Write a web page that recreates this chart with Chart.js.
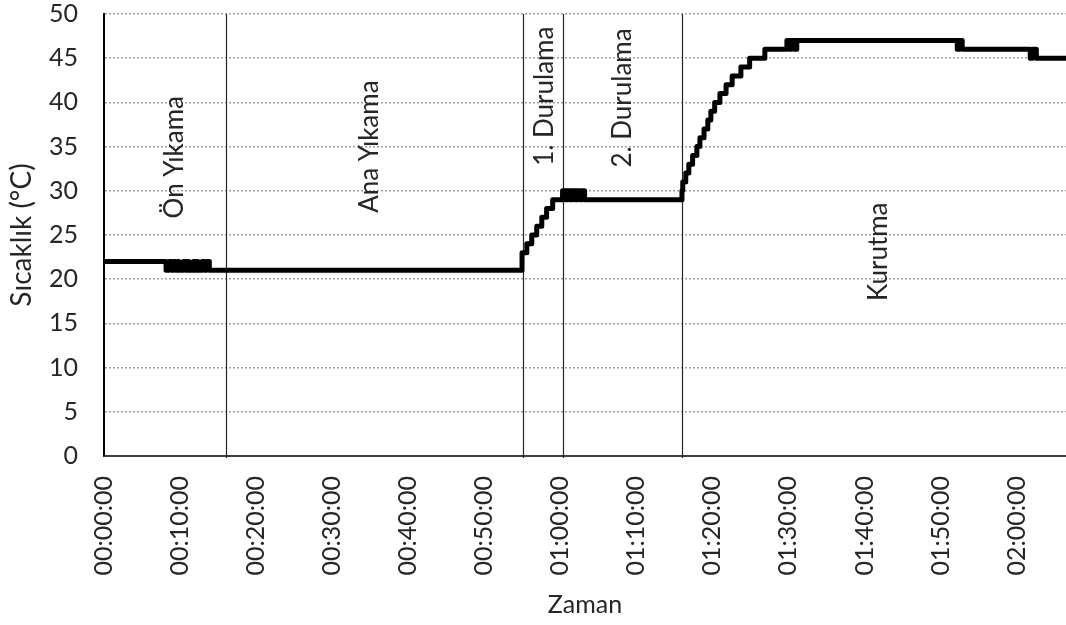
<!DOCTYPE html>
<html lang="tr">
<head>
<meta charset="utf-8">
<title>Sıcaklık - Zaman</title>
<script src="https://cdn.jsdelivr.net/npm/chart.js@4.4.1/dist/chart.umd.min.js"></script>
<style>
  html, body { margin: 0; padding: 0; background: #fff; }
  #kutu { width: 1066px; height: 625px; }
</style>
</head>
<body>
<div id="kutu"><canvas id="grafik"></canvas></div>
<script>
// zaman (dakika) ve sicaklik (°C)
var zamanDk = [
	0, 8.16,
	8.6, 8.9, 9.15, 9.45, 9.7, 9.85,
	10.45, 10.75, 10.95, 11.15,
	11.75, 12.0, 12.2, 12.35,
	12.9, 13.2, 13.45, 13.85,
	54.97, 55.6, 56.25, 56.9, 57.57, 58.2, 59.0,
	60.3, 60.65, 60.95, 61.3, 61.6, 61.95, 62.25, 62.6, 62.85, 63.2,
	76.0, 76.1, 76.5, 76.9, 77.4, 77.96, 78.36, 78.9, 79.4, 79.8, 80.3, 80.99, 81.8, 82.6, 83.75, 84.9, 86.9,
	89.8, 90.1, 90.4, 90.8, 91.1,
	112.2, 112.5, 112.85,
	121.8, 122.1, 122.6,
	126.5
];
var sicaklik = [
	22, 21,
	22, 21, 22, 21, 22, 21,
	22, 21, 22, 21,
	22, 21, 22, 21,
	22, 21, 22, 21,
	23, 24, 25, 26, 27, 28, 29,
	30, 29, 30, 29, 30, 29, 30, 29, 30, 29,
	30, 31, 32, 33, 34, 35, 36, 37, 38, 39, 40, 41, 42, 43, 44, 45, 46,
	47, 46, 47, 46, 47,
	46, 47, 46,
	45, 46, 45,
	45
];

var asamaAdlari = ["Ön Yıkama", "Ana Yıkama", "1. Durulama", "2. Durulama", "Kurutma"];
var asamaSinirlari = [16.0, 55.1, 60.3, 76.0];	// dakika

var yaziRengi = "#262626";

function saatYaz(dk) {
	var s = Math.round(dk * 60);
	var h = Math.floor(s / 3600), m = Math.floor((s % 3600) / 60), sn = s % 60;
	return [h, m, sn].map(function(n) { return String(n).padStart(2, "0"); }).join(":");
}

var noktalar = [];
for (var i = 0; i < zamanDk.length; i++) {
	noktalar.push({ x: zamanDk[i], y: sicaklik[i] });
}

// asama cizgileri ve yazilari
var asamaEklentisi = {
	id: "asamalar",
	beforeDatasetsDraw: function(chart) {
		var ctx = chart.ctx, xs = chart.scales.x, ys = chart.scales.y, alan = chart.chartArea;
		// yazi yerleri (dakika, °C)
		var etiketX = [9.3, 34.9, 58.0, 68.2, 101.8];
		var etiketY = [33.8, 35.0, 40.7, 40.5, 23.1];

		ctx.save();
		ctx.strokeStyle = "#262626";
		ctx.lineWidth = 1.2;
		asamaSinirlari.forEach(function(t) {
			var px = Math.round(xs.getPixelForValue(t)) + 0.5;
			ctx.beginPath();
			ctx.moveTo(px, alan.top);
			ctx.lineTo(px, alan.bottom + 2);
			ctx.stroke();
		});

		ctx.font = "26px Lato";
		ctx.fillStyle = yaziRengi;
		ctx.textAlign = "center";
		ctx.textBaseline = "middle";
		asamaAdlari.forEach(function(ad, k) {
			ctx.save();
			ctx.translate(xs.getPixelForValue(etiketX[k]), ys.getPixelForValue(etiketY[k]));
			ctx.rotate(-Math.PI / 2);
			ctx.fillText(ad, 0, 0);
			ctx.restore();
		});
		ctx.restore();
	}
};

var ctx = document.getElementById("grafik");
var grafik = new Chart(ctx, {
	type: "line",
	data: {
		datasets: [{
			data: noktalar,
			borderColor: "#000",
			borderWidth: 5,
			borderJoinStyle: "round",
			pointRadius: 0,
			stepped: true,
			fill: false
		}]
	},
	options: {
		responsive: true,
		maintainAspectRatio: false,
		animation: false,
		layout: { padding: 0 },
		plugins: {
			legend: { display: false },
			tooltip: { enabled: false }
		},
		scales: {
			x: {
				type: "linear",
				min: 0,
				max: 126.5,
				grid: { display: false, drawTicks: false },
				border: { display: true, color: "#404040", width: 2 },
				ticks: {
					stepSize: 10,
					includeBounds: false,
					autoSkip: false,
					minRotation: 90,
					maxRotation: 90,
					padding: 20,
					color: yaziRengi,
					font: { family: "Lato", size: 25 },
					callback: function(v) { return saatYaz(v); }
				},
				title: {
					display: true,
					text: "Zaman",
					color: yaziRengi,
					font: { family: "Lato", size: 25 },
					padding: { top: 0, bottom: 5 }
				},
				afterFit: function(s) {
					s.height = 169;
					s.paddingLeft = 0;
					s.paddingRight = 0;
				}
			},
			y: {
				min: 0,
				max: 50,
				grid: {
					color: function(c) { return c.tick && c.tick.value === 0 ? "rgba(0,0,0,0)" : "#a0a0a0"; },
					lineWidth: 1.5,
					drawTicks: false
				},
				border: { display: true, color: "#000", width: 2, dash: [2, 2] },
				ticks: {
					stepSize: 5,
					padding: 26,
					color: yaziRengi,
					font: { family: "Lato", size: 25 }
				},
				title: {
					display: true,
					text: "Sıcaklık (°C)",
					color: yaziRengi,
					font: { family: "Lato", size: 28 },
					padding: { top: 5, bottom: 0 }
				},
				afterFit: function(s) {
					s.width = 104;
					s.paddingTop = 14;
					s.paddingBottom = 0;
				}
			}
		}
	},
	plugins: [asamaEklentisi]
});
</script>
</body>
</html>
